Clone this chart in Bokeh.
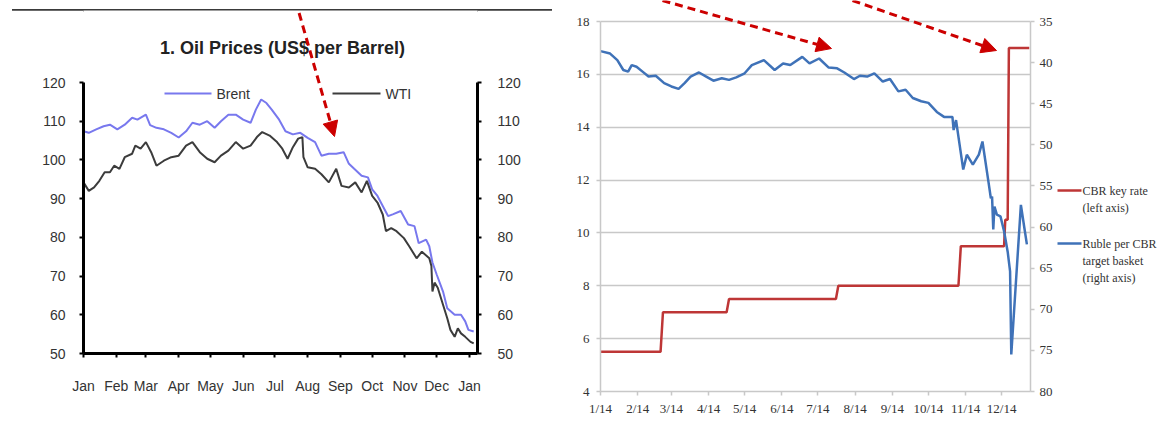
from bokeh.plotting import figure
from bokeh.models import Range1d, LinearAxis, FixedTicker, Label, Arrow, NormalHead, Div
from bokeh.layouts import row, column
from bokeh.embed import file_html
from bokeh.resources import INLINE

# ---------------- data : left panel (oil prices, 2014 - Jan 2015) ----------------
month_start_days = [0, 31, 59, 90, 120, 151, 181, 212, 243, 273, 304, 334, 365]
oil_month_labels = ["Jan", "Feb", "Mar", "Apr", "May", "Jun", "Jul", "Aug",
                    "Sep", "Oct", "Nov", "Dec", "Jan"]
oil_ticks = [50, 60, 70, 80, 90, 100, 110, 120]

brent_days = [0, 5, 12, 19, 25, 32, 39, 46, 51, 59, 63, 69, 76, 83, 90, 97, 103, 110,
              117, 124, 130, 137, 144, 151, 158, 163, 168, 173, 178, 185, 191, 198,
              205, 212, 219, 225, 232, 239, 246, 251, 256, 263, 269, 273, 278, 283,
              288, 293, 300, 307, 313, 317, 324, 327, 330, 334, 340, 344, 351, 357,
              361, 364, 369]
brent_price = [107.4, 107.0, 107.9, 108.7, 109.1, 107.9, 109.1, 110.9, 110.4, 111.7,
               109.0, 108.3, 107.9, 107.0, 105.8, 107.4, 109.6, 109.1, 110.0, 108.3,
               110.0, 111.7, 111.7, 110.4, 109.6, 113.0, 115.6, 114.7, 113.0, 110.4,
               107.4, 106.6, 107.0, 105.7, 104.6, 101.1, 101.6, 101.6, 102.0, 99.0,
               97.7, 95.9, 95.5, 92.4, 90.7, 88.1, 85.5, 86.0, 86.8, 83.3,
               82.9, 78.5, 79.4, 77.7, 73.5, 70.4, 66.0, 61.7, 60.0, 60.0,
               58.3, 56.1, 55.7]

wti_days = [0, 5, 10, 15, 20, 25, 29, 34, 39, 46, 49, 54, 59, 64, 69, 76, 83, 90, 97,
            103, 110, 117, 124, 130, 137, 144, 151, 158, 164, 169, 176, 183, 188, 193,
            198, 203, 207, 208, 212, 219, 225, 232, 239, 244, 251, 257, 263, 268, 273,
            278, 283, 286, 291, 296, 303, 308, 315, 320, 327, 329, 330, 332, 335, 340,
            344, 347, 351, 354, 357, 361, 366, 369]
wti_price = [94.2, 92.0, 92.9, 94.6, 96.8, 96.8, 98.5, 97.7, 100.7, 101.6,
             103.7, 102.9, 104.6, 102.0, 98.5, 99.8, 100.7, 101.1, 103.7, 104.6,
             102.0, 100.3, 99.4, 101.1, 102.4, 104.6, 102.9, 103.7, 105.9, 107.2,
             106.3, 104.6, 102.9, 100.3, 103.3, 105.5, 105.9, 100.7, 98.1, 97.7,
             96.3, 94.2, 97.7, 93.3, 92.9, 94.2, 91.6, 94.6, 90.7, 89.0,
             85.9, 81.6, 82.4, 81.6, 79.8, 77.7, 74.6, 76.3, 74.6, 72.6,
             66.0, 68.3, 67.0, 62.6, 59.1, 56.1, 54.3, 56.5, 55.2, 54.3,
             53.0, 52.6]

# ---------------- data : right panel (CBR key rate and ruble basket, 2014) ----------------
cbr_month_days = [0, 31, 59, 90, 120, 151, 181, 212, 243, 273, 304, 334]
cbr_month_labels = ["1/14", "2/14", "3/14", "4/14", "5/14", "6/14", "7/14", "8/14",
                    "9/14", "10/14", "11/14", "12/14"]
rate_ticks = [4, 6, 8, 10, 12, 14, 16, 18]
ruble_ticks = [35, 40, 45, 50, 55, 60, 65, 70, 75, 80]

key_rate_days = [0, 50, 52, 105, 107, 196, 198, 298, 300, 336, 337, 339, 340, 357]
key_rate = [5.5, 5.5, 7.0, 7.0, 7.5, 7.5, 8.0, 8.0, 9.5, 9.5, 10.5, 10.5, 17.0, 17.0]

ruble_days = [0, 8, 14, 19, 23, 26, 30, 35, 40, 46, 53, 59, 65, 70, 75, 82, 88, 94, 101,
              107, 113, 120, 126, 136, 145, 152, 158, 168, 174, 182, 190, 197, 203, 211,
              216, 222, 228, 235, 241, 248, 254, 260, 267, 273, 280, 286, 293, 294, 296,
              299, 302, 305, 310, 315, 318, 323, 325, 326, 327, 328, 330, 333, 336, 339,
              341, 342, 350, 353, 355]
ruble_basket = [38.6, 38.9, 39.7, 40.9, 41.1, 40.3, 40.5, 41.1, 41.7, 41.6, 42.5, 42.9,
                43.2, 42.5, 41.7, 41.2, 41.7, 42.2, 41.9, 42.1, 41.8, 41.3, 40.3, 39.7,
                40.9, 40.1, 40.3, 39.3, 40.1, 39.5, 40.6, 40.7, 41.2, 42.0, 41.6, 41.7,
                41.3, 42.3, 42.0, 43.5, 43.3, 44.3, 44.7, 44.9, 46.0, 46.6, 46.6, 48.2,
                47.0, 50.0, 53.0, 51.2, 52.4, 51.2, 49.6, 54.5, 56.5, 56.3, 60.3, 57.5,
                58.5, 58.7, 60.5, 63.0, 65.4, 75.5, 57.3, 60.2, 62.1]

legend_red_lines = ["CBR key rate", "(left axis)"]
legend_blue_lines = ["Ruble per CBR", "target basket", "(right axis)"]

# ---------------- layout (page pixels) ----------------
H = 421
RULE_H = 10                                # strip holding the black rule above panel 1
W1 = 560
L1, R1, T1, B1 = 83, 477, 82, 353          # left plotting box (page coords)
L2, R2, T2, B2 = 600, 1030, 21, 391        # right plotting box (page coords)
P2_RIGHT = 1056                            # end of right panel canvas (incl. right axis)
X1_END = 372.6
X2_END = 358.0

SANS = "Liberation Sans"
SERIF = "Liberation Serif"

px_per_oil = (B1 - T1) / 70.0
px_per_rate = (B2 - T2) / 14.0
px_per_rub = (B2 - T2) / 45.0


def lx(px):
    return (px - L1) / (R1 - L1) * X1_END


def ly(py):
    return 120 - (py - T1) / px_per_oil


def rx(px):
    return (px - L2) / (R2 - L2) * X2_END


def ry(py):
    return 18 - (py - T2) / px_per_rate


# ================= left figure =================
p1 = figure(width=W1, height=H - RULE_H, output_backend="svg", toolbar_location=None,
            title=None, margin=0,
            x_range=Range1d(0, X1_END), y_range=Range1d(50, ly(RULE_H)),
            min_border_left=L1, min_border_right=W1 - R1,
            min_border_top=0, min_border_bottom=H - B1,
            x_axis_location=None, y_axis_location=None)
p1.outline_line_color = None
p1.xgrid.visible = False
p1.ygrid.visible = False
p1.background_fill_color = "white"
p1.border_fill_color = "white"


def style_oil_axis(ax, standoff):
    ax.axis_line_color = "black"
    ax.axis_line_width = 3
    ax.major_tick_line_color = "black"
    ax.major_tick_line_width = 2
    ax.major_tick_out = 4
    ax.major_tick_in = 0
    ax.minor_tick_line_color = None
    ax.major_label_text_font = SANS
    ax.major_label_text_font_size = "14px"
    ax.major_label_text_color = "#333333"
    ax.major_label_standoff = standoff


xa1 = LinearAxis(ticker=FixedTicker(ticks=month_start_days),
                 major_label_overrides={d: lab for d, lab in zip(month_start_days, oil_month_labels)})
style_oil_axis(xa1, 20)
p1.add_layout(xa1, "below")
ya1 = LinearAxis(ticker=FixedTicker(ticks=oil_ticks), bounds=(50, 120))
style_oil_axis(ya1, 14)
p1.add_layout(ya1, "left")
ya1r = LinearAxis(ticker=FixedTicker(ticks=oil_ticks), bounds=(50, 120))
style_oil_axis(ya1r, 16)
p1.add_layout(ya1r, "right")

brent_color = "#7878ee"
wti_color = "#3c3c3c"
p1.line(brent_days, brent_price, line_color=brent_color, line_width=2)
p1.line(wti_days, wti_price, line_color=wti_color, line_width=2)

# legend (manual, inside the plotting box)
for (x0, x1, col, txt) in [(164, 211, brent_color, "Brent"), (332, 380, wti_color, "WTI")]:
    p1.add_layout(Arrow(x_start=lx(x0), y_start=ly(93), x_end=lx(x1), y_end=ly(93),
                        end=None, line_color=col, line_width=2))
    p1.add_layout(Label(x=lx(x1 + 5), y=ly(93), text=txt, text_font=SANS,
                        text_font_size="14px", text_color="#333333",
                        text_baseline="middle", text_align="left"))

# title
p1.add_layout(Label(x=lx(282), y=ly(47), text="1. Oil Prices (US$ per Barrel)",
                    text_font=SANS, text_font_size="18px", text_font_style="bold",
                    text_color="#222222", text_align="center", text_baseline="middle"))

# red dashed arrow
p1.add_layout(Arrow(x_start=lx(295), y_start=ly(0), x_end=lx(334), y_end=ly(136),
                    line_color="#cc0000", line_width=3, line_dash="8 5",
                    end=NormalHead(size=15, fill_color="#cc0000", line_color="#cc0000")))

rule = Div(text='<div style="margin:6px 0 0 12px;width:540px;height:3px;'
                'background:#3a3a3a"></div>', width=W1, height=RULE_H, margin=0)

# ================= right figure =================
W2 = P2_RIGHT - W1
p2 = figure(width=W2, height=H, output_backend="svg", toolbar_location=None,
            title=None, margin=0,
            x_range=Range1d(0, X2_END), y_range=Range1d(4, ry(0)),
            min_border_left=L2 - W1, min_border_right=P2_RIGHT - R2,
            min_border_top=0, min_border_bottom=H - B2,
            x_axis_location=None, y_axis_location=None)
p2.extra_y_ranges = {"rub": Range1d(80, 35 - T2 / px_per_rub)}
p2.outline_line_color = None
p2.background_fill_color = "white"
p2.border_fill_color = "white"

GRID = "#c8c8c8"


def style_cbr_axis(ax, standoff):
    ax.axis_line_color = GRID
    ax.axis_line_width = 1.5
    ax.major_tick_line_color = GRID
    ax.major_tick_line_width = 1.5
    ax.major_tick_out = 4
    ax.major_tick_in = 0
    ax.minor_tick_line_color = None
    ax.major_label_text_font = SERIF
    ax.major_label_text_font_size = "13px"
    ax.major_label_text_color = "#333333"
    ax.major_label_standoff = standoff


xa2 = LinearAxis(ticker=FixedTicker(ticks=cbr_month_days),
                 major_label_overrides={d: lab for d, lab in zip(cbr_month_days, cbr_month_labels)})
style_cbr_axis(xa2, 5)
p2.add_layout(xa2, "below")
ya2 = LinearAxis(ticker=FixedTicker(ticks=rate_ticks), bounds=(4, 18))
style_cbr_axis(ya2, 7)
p2.add_layout(ya2, "left")
ya2r = LinearAxis(y_range_name="rub", ticker=FixedTicker(ticks=ruble_ticks), bounds=(35, 80))
style_cbr_axis(ya2r, 5)
p2.add_layout(ya2r, "right")

p2.xgrid.visible = False
p2.ygrid.ticker = FixedTicker(ticks=rate_ticks)
p2.ygrid.grid_line_color = GRID
p2.ygrid.grid_line_width = 1.5

red = "#be3636"
blue = "#3f72b8"
p2.line(key_rate_days, key_rate, line_color=red, line_width=2.5)
p2.line(ruble_days, ruble_basket, y_range_name="rub", line_color=blue, line_width=2.5)

# red dashed arrows
for (xs, ys, xe, ye) in [(662, 0, 831, 48), (852, 0, 996, 50)]:
    p2.add_layout(Arrow(x_start=rx(xs), y_start=ry(ys), x_end=rx(xe), y_end=ry(ye),
                        line_color="#cc0000", line_width=3, line_dash="8 5",
                        end=NormalHead(size=15, fill_color="#cc0000", line_color="#cc0000")))

# ================= legend strip for the right panel =================
W3 = 1162 - P2_RIGHT
p3 = figure(width=W3, height=H, output_backend="svg", toolbar_location=None, title=None,
            margin=0,
            x_range=Range1d(P2_RIGHT, 1162), y_range=Range1d(H, 0),
            min_border=0, x_axis_location=None, y_axis_location=None)
p3.outline_line_color = None
p3.xgrid.visible = False
p3.ygrid.visible = False
p3.background_fill_color = "white"
p3.border_fill_color = "white"

for (yy, col, lines) in [(190, red, legend_red_lines), (243, blue, legend_blue_lines)]:
    p3.add_layout(Arrow(x_start=1057, y_start=yy, x_end=1081, y_end=yy,
                        end=None, line_color=col, line_width=2.5))
    for i, t in enumerate(lines):
        p3.add_layout(Label(x=1082, y=yy + 17 * i, text=t, text_font=SERIF,
                            text_font_size="12px", text_color="#333333",
                            text_baseline="middle", text_align="left"))

layout = row(column(rule, p1, margin=0), column(p2, margin=0), column(p3, margin=0),
             spacing=0, margin=0)
open("out.html", "w").write(file_html(layout, INLINE))
